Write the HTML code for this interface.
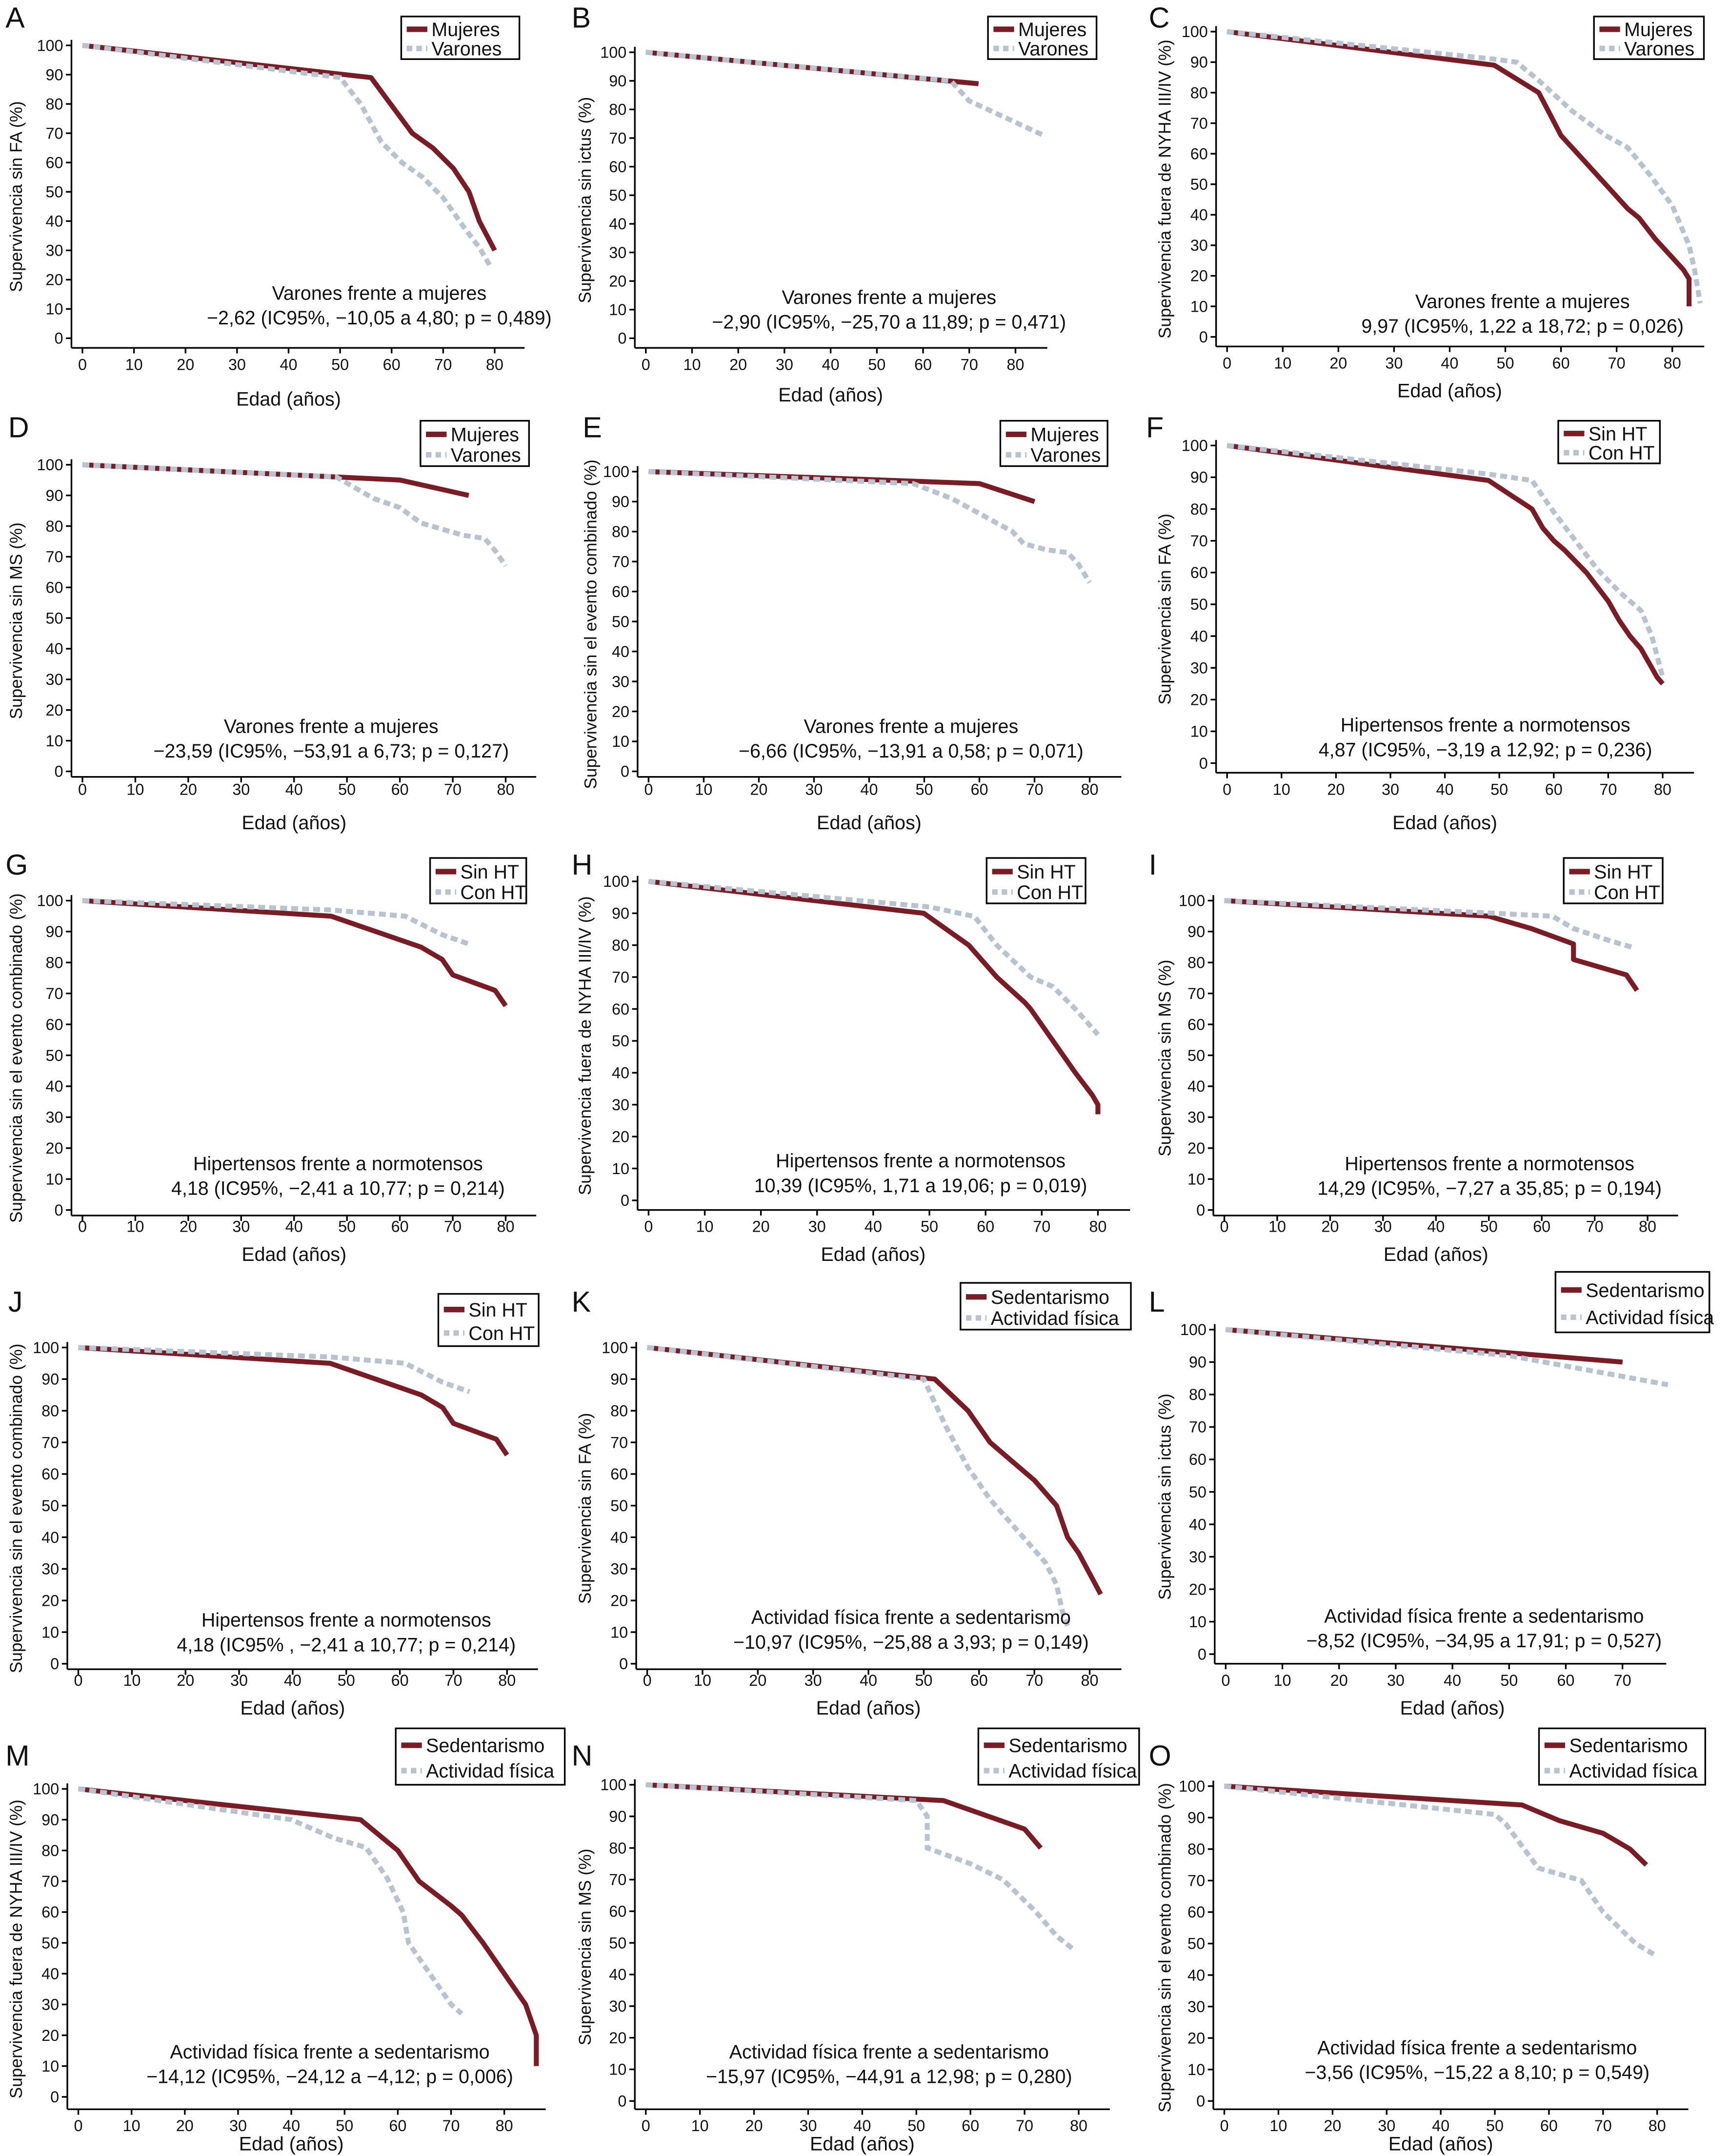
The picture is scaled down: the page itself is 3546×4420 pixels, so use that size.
<!DOCTYPE html>
<html><head><meta charset="utf-8"><style>
html,body{margin:0;padding:0;background:#fff;}
svg{display:block;font-family:"Liberation Sans Narrow","Liberation Sans",sans-serif;}
</style></head><body>
<svg id="fig" width="3546" height="4420" viewBox="0 0 1259 1568" preserveAspectRatio="none" xmlns="http://www.w3.org/2000/svg"></svg>
<script>
// ---- data (age, survival %) ----
const A_s1=[[0,100],[56,89],[64,70],[68,65],[72,58],[75,50],[77,40],[80,30]];
const A_s2=[[0,100],[50,89],[54,80],[58,67],[62,60],[66,55],[70,48],[74,38],[77,31],[79,25]];
const B_s1=[[0,100],[72,89]];
const B_s2=[[0,100],[66,90],[70,83],[86,71]];
const C_s1=[[0,100],[48,89],[56,80],[58,73],[60,66],[64,58],[68,50],[70,46],[72,42],[74,39],[77,32],[80,26],[82,22],[83,19],[83,10]];
const C_s2=[[0,100],[48,91],[52,90],[56,84],[62,74],[68,66],[72,62],[76,53],[80,43],[83,30],[84,22],[85,11]];
const D_s1=[[0,100],[48,96],[60,95],[73,90]];
const D_s2=[[0,100],[48,96],[55,89],[60,86],[64,81],[72,77],[76,76],[78,72],[80,67]];
const E_s1=[[0,100],[60,96],[70,90]];
const E_s2=[[0,100],[48,96],[55,91],[60,86],[66,80],[68,76],[72,74],[76,73],[78,69],[80,63]];
const F_s1=[[0,100],[48,89],[56,80],[58,74],[60,70],[62,67],[66,60],[70,51],[72,45],[74,40],[76,36],[78,30],[79,27],[80,25]];
const F_s2=[[0,100],[48,91],[56,89],[60,79],[64,70],[68,61],[72,54],[76,48],[78,40],[80,27]];
const G_s1=[[0,100],[47,95],[64,85],[68,81],[70,76],[78,71],[80,66]];
const G_s2=[[0,100],[47,97],[61,95],[68,89],[73,86]];
const H_s1=[[0,100],[49,90],[57,80],[62,70],[67,62],[68,60],[72,50],[76,40],[79,33],[80,30],[80,27]];
const H_s2=[[0,100],[50,92],[58,89],[62,80],[68,70],[72,67],[76,60],[80,52]];
const I_s1=[[0,100],[50,95],[58,91],[66,86],[66,81],[76,76],[78,71]];
const I_s2=[[0,100],[50,96],[62,95],[66,91],[73,87],[77,85]];
const J_s1=[[0,100],[47,95],[64,85],[68,81],[70,76],[78,71],[80,66]];
const J_s2=[[0,100],[47,97],[61,95],[68,89],[73,86]];
const K_s1=[[0,100],[52,90],[58,80],[62,70],[66,64],[70,58],[74,50],[76,40],[78,35],[82,22]];
const K_s2=[[0,100],[50,90],[54,75],[58,62],[62,52],[66,44],[70,36],[72,32],[74,25],[75,17],[76,12]];
const L_s1=[[0,100],[70,90]];
const L_s2=[[0,100],[50,92],[78,83]];
const M_s1=[[0,100],[53,90],[60,80],[64,70],[70,62],[72,59],[76,50],[80,40],[84,30],[86,20],[86,10]];
const M_s2=[[0,100],[40,90],[48,84],[54,81],[58,71],[61,60],[62,50],[66,40],[70,30],[72,27]];
const N_s1=[[0,100],[55,95],[70,86],[73,80]];
const N_s2=[[0,100],[50,95],[52,90],[52,80],[60,75],[66,70],[72,60],[76,52],[79,48]];
const O_s1=[[0,100],[55,94],[62,89],[70,85],[75,80],[78,75]];
const O_s2=[[0,100],[50,91],[52,88],[58,74],[62,72],[66,70],[70,60],[76,50],[80,46]];
const xTicks=[0,10,20,30,40,50,60,70,80];
const yTicks=[0,10,20,30,40,50,60,70,80,90,100];

const RED="#7b1c25", GRAY="#b7c3cf";
const svg=document.getElementById('fig');
const NS="http://www.w3.org/2000/svg";
function el(tag,attrs,parent){const e=document.createElementNS(NS,tag);for(const k in attrs)e.setAttribute(k,attrs[k]);(parent||svg).appendChild(e);return e;}
function txt(s,x,y,size,anchor,parent){const t=el('text',{x:x,y:y,'font-size':size,'text-anchor':anchor||'start',fill:'#111'},parent);t.textContent=s;return t;}

const FA="Supervivencia sin FA (%)", IC="Supervivencia sin ictus (%)", NY="Supervivencia fuera de NYHA III/IV (%)", MS="Supervivencia sin MS (%)", EC="Supervivencia sin el evento combinado (%)";
const MV=["Mujeres","Varones"], HT=["Sin HT","Con HT"], SA=["Sedentarismo","Actividad física"];
const panels=[
 {L:"A",lx:4,ly:20,x0:60,x80:360,yT:33,yB:246,yt:FA,ytx:16,leg:MV,lb:[292,12,86,31],ann:["Varones frente a mujeres","\u22122,62 (IC95%, \u221210,05 a 4,80;  p = 0,489)"],ax:276,ay:218,s:[A_s1,A_s2],xl:265,tl:290},
 {L:"B",lx:416,ly:20,x0:470,x80:739,yT:38,yB:246,yt:IC,ytx:430,leg:MV,lb:[719,12,79,31],ann:["Varones frente a mujeres","\u22122,90 (IC95%, \u221225,70 a 11,89; p = 0,471)"],ax:647,ay:221,s:[B_s1,B_s2],xl:265,tl:287},
 {L:"C",lx:836,ly:20,x0:893,x80:1217,yT:23,yB:245,yt:NY,ytx:852,leg:MV,lb:[1160,12,80,31],ann:["Varones frente a mujeres","9,97 (IC95%, 1,22 a 18,72; p = 0,026)"],ax:1108,ay:224,s:[C_s1,C_s2],xl:264,tl:284},
 {L:"D",lx:6,ly:318,x0:60,x80:368,yT:338,yB:561,yt:MS,ytx:16,leg:MV,lb:[306,306,79,33],ann:["Varones frente a mujeres","\u221223,59 (IC95%, \u221253,91 a 6,73;  p = 0,127)"],ax:241,ay:533,s:[D_s1,D_s2],xl:574,tl:598},
 {L:"E",lx:424,ly:318,x0:472,x80:793,yT:343,yB:561,yt:EC,ytx:434,leg:MV,lb:[728,306,78,33],ann:["Varones frente a mujeres","\u22126,66 (IC95%, \u221213,91 a 0,58;  p = 0,071)"],ax:663,ay:533,s:[E_s1,E_s2],xl:574,tl:598},
 {L:"F",lx:834,ly:318,x0:893,x80:1210,yT:324,yB:555,yt:FA,ytx:852,leg:HT,lb:[1134,306,74,31],ann:["Hipertensos frente a normotensos","4,87 (IC95%, \u22123,19 a  12,92; p = 0,236)"],ax:1081,ay:532,s:[F_s1,F_s2],xl:574,tl:598},
 {L:"G",lx:4,ly:636,x0:60,x80:368,yT:655,yB:880,yt:EC,ytx:16,leg:HT,lb:[313,624,70,33],ann:["Hipertensos frente a normotensos","4,18 (IC95%, \u22122,41 a 10,77;  p = 0,214)"],ax:246,ay:851,s:[G_s1,G_s2],xl:892,tl:912},
 {L:"H",lx:416,ly:636,x0:472,x80:799,yT:641,yB:873,yt:NY,ytx:430,leg:HT,lb:[718,624,72,33],ann:["Hipertensos frente a normotensos","10,39 (IC95%, 1,71 a 19,06; p = 0,019)"],ax:670,ay:849,s:[H_s1,H_s2],xl:892,tl:912},
 {L:"I",lx:836,ly:636,x0:891,x80:1199,yT:655,yB:880,yt:MS,ytx:852,leg:HT,lb:[1138,624,72,33],ann:["Hipertensos frente a normotensos","14,29 (IC95%, \u22127,27 a 35,85; p = 0,194)"],ax:1084,ay:851,s:[I_s1,I_s2],xl:892,tl:912},
 {L:"J",lx:6,ly:954,x0:57,x80:369,yT:980,yB:1210,yt:EC,ytx:16,leg:HT,lb:[319,941,73,38],ann:["Hipertensos frente a normotensos","4,18 (IC95% , \u22122,41 a 10,77; p = 0,214)"],ax:252,ay:1183,s:[J_s1,J_s2],xl:1222,tl:1242},
 {L:"K",lx:416,ly:954,x0:471,x80:793,yT:980,yB:1210,yt:FA,ytx:430,leg:SA,lb:[699,933,124,34],ann:["Actividad física frente a sedentarismo","\u221210,97 (IC95%, \u221225,88 a 3,93;  p = 0,149)"],ax:663,ay:1181,s:[K_s1,K_s2],xl:1222,tl:1242},
 {L:"L",lx:836,ly:954,x0:892,x80:1222,yT:967,yB:1203,yt:IC,ytx:852,leg:SA,lb:[1132,925,112,44],ann:["Actividad física frente a sedentarismo","\u22128,52 (IC95%, \u221234,95 a 17,91;  p = 0,527)"],ax:1080,ay:1180,s:[L_s1,L_s2],xl:1222,tl:1242},
 {L:"M",lx:4,ly:1284,x0:57,x80:367,yT:1301,yB:1525,yt:NY,ytx:16,leg:SA,lb:[288,1257,123,41],ann:["Actividad física frente a sedentarismo","\u221214,12 (IC95%, \u221224,12 a \u22124,12;  p = 0,006)"],ax:240,ay:1497,s:[M_s1,M_s2],xl:1546,tl:1559},
 {L:"N",lx:416,ly:1284,x0:470,x80:785,yT:1298,yB:1528,yt:MS,ytx:430,leg:SA,lb:[712,1257,117,41],ann:["Actividad física frente a sedentarismo","\u221215,97 (IC95%, \u221244,91 a 12,98; p = 0,280)"],ax:647,ay:1497,s:[N_s1,N_s2],xl:1546,tl:1559},
 {L:"O",lx:836,ly:1284,x0:891,x80:1206,yT:1299,yB:1528,yt:EC,ytx:852,leg:SA,lb:[1120,1257,121,41],ann:["Actividad física frente a sedentarismo","\u22123,56 (IC95%, \u221215,22 a 8,10; p = 0,549)"],ax:1075,ay:1494,s:[O_s1,O_s2],xl:1546,tl:1559}
];

panels.forEach(p=>{
  const g=el('g',{});
  
  
  const xs=v=>p.x0+(p.x80-p.x0)*v/80;
  const ys=v=>p.yB+(p.yT-p.yB)*v/100;
  const axX=p.x0-8, axY=Math.max(p.yB+4,p.xl-12);
  const lt=txt(p.L,p.lx,p.ly,21,'start',g);
  
  
  const ya=el('line',{x1:axX,y1:ys(100)-4,x2:axX,y2:axY,stroke:'#000','stroke-width':1.2},g);
  
  
  const xmax=p.L==="L"?77:(p.L==="M"?87:(p.L==="B"?86:85));
  const xa=el('line',{x1:axX,y1:axY,x2:xs(xmax)+3,y2:axY,stroke:'#000','stroke-width':1.2},g);
  
  
  yTicks.forEach(v=>{
    el('line',{x1:axX-4,y1:ys(v),x2:axX,y2:ys(v),stroke:'#000','stroke-width':1.2},g);
    const t=txt(String(v),axX-6,ys(v)+4,11.5,'end',g);
    
    
  });
  xTicks.forEach(v=>{
    if(p.L==="L"&&v>70)return;
    el('line',{x1:xs(v),y1:axY,x2:xs(v),y2:axY+4,stroke:'#000','stroke-width':1.2},g);
    const t=txt(String(v),xs(v),p.xl+4,11.5,'middle',g);
    
    
  });
  const xt=txt("Edad (años)",(xs(0)+xs(80))/2,p.tl+5,14,'middle',g);
  
  
  const cy=(ys(100)+axY)/2;
  const yt=txt(p.yt,p.ytx,cy,12.5,'middle',g);
  yt.setAttribute('transform','rotate(-90 '+p.ytx+' '+cy+')');
  
  
  const s1=el('path',{d:'M'+p.s[0].map(d=>xs(d[0]).toFixed(1)+','+ys(d[1]).toFixed(1)).join('L'),fill:'none',stroke:RED,'stroke-width':3.6,'stroke-linejoin':'round'},g);
  
  
  const s2=el('path',{d:'M'+p.s[1].map(d=>xs(d[0]).toFixed(1)+','+ys(d[1]).toFixed(1)).join('L'),fill:'none',stroke:GRAY,'stroke-width':3.6,'stroke-dasharray':'5 3'},g);
  
  
  const [bx,by,bw,bh]=p.lb;
  const lg=el('g',{},g);
  
  
  el('rect',{x:bx,y:by,width:bw,height:bh,fill:'#fff',stroke:'#000','stroke-width':1.2},lg);
  const r1=by+bh*0.3, r2=by+bh*0.75;
  el('line',{x1:bx+4,y1:r1,x2:bx+19,y2:r1,stroke:RED,'stroke-width':4},lg);
  el('line',{x1:bx+4,y1:r2,x2:bx+19,y2:r2,stroke:GRAY,'stroke-width':4,'stroke-dasharray':'4 3'},lg);
  const e1=txt(p.leg[0],bx+22,r1+5,14,'start',lg);
  
  
  const e2=txt(p.leg[1],bx+22,r2+5,14,'start',lg);
  
  
  const a1=txt(p.ann[0],p.ax,p.ay,14,'middle',g);
  
  
  const a2=txt(p.ann[1],p.ax,p.ay+18,14,'middle',g);
  
  
});
</script>
</body></html>
